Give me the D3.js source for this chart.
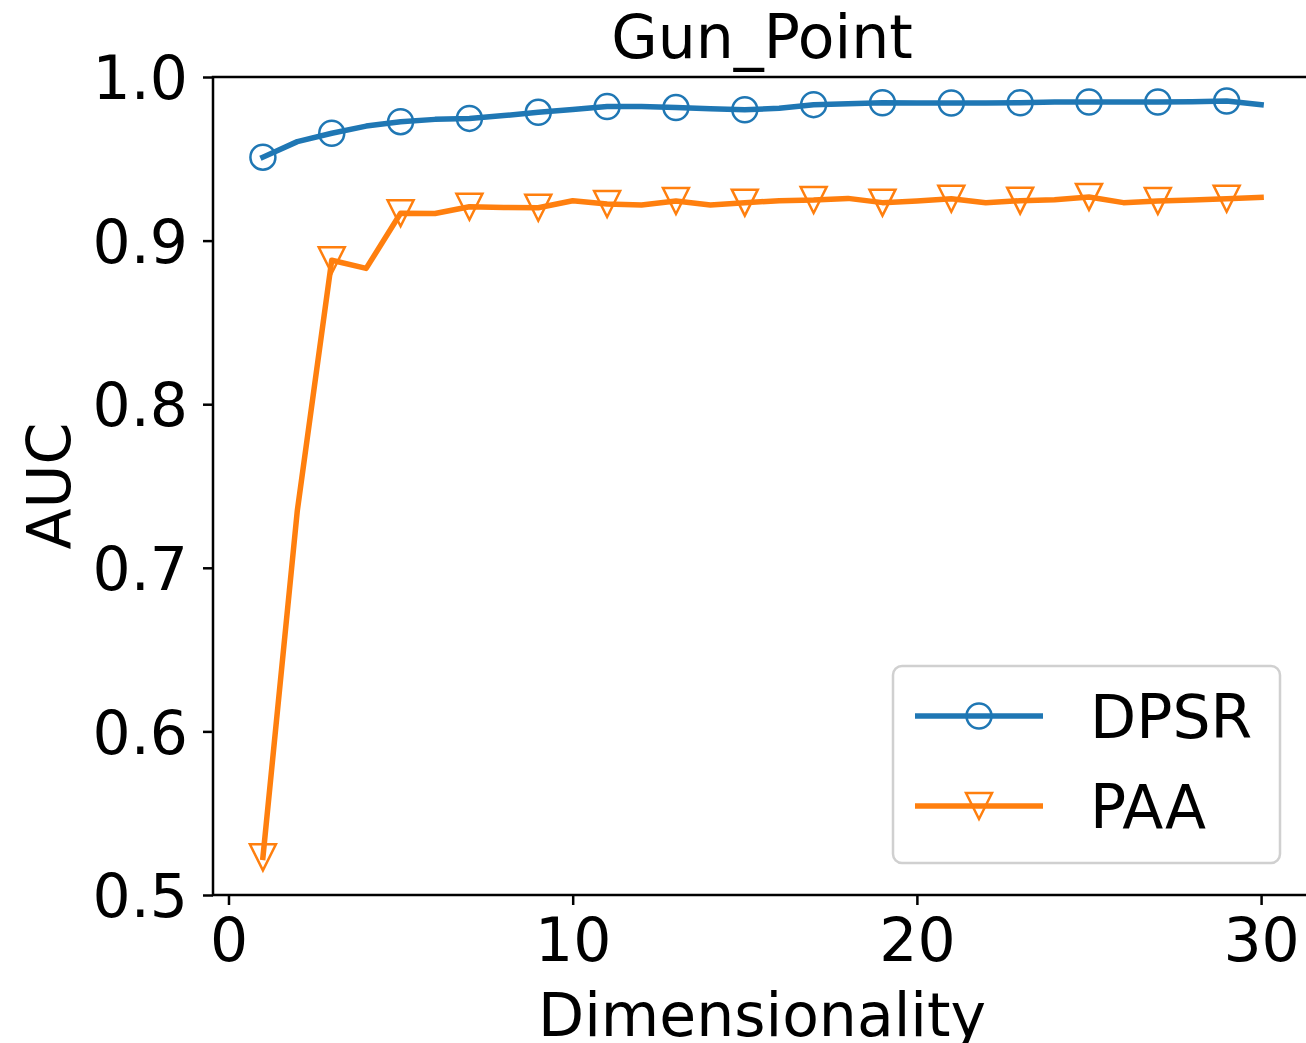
<!DOCTYPE html>
<html>
<head>
<meta charset="utf-8">
<script src="https://cdn.jsdelivr.net/npm/d3@7"></script>
<style>
  html, body { margin: 0; padding: 0; background: #fff; }
  svg { display: block; }
  text { font-family: "DejaVu Sans", sans-serif; }
</style>
</head>
<body>
<script>
// ---- data ----
const dims = [1,2,3,4,5,6,7,8,9,10,11,12,13,14,15,16,17,18,19,20,21,22,23,24,25,26,27,28,29,30];
const dpsr = [0.951,0.9605,0.9656,0.970,0.9727,0.9741,0.9747,0.9764,0.9784,0.9802,
              0.9819,0.9819,0.9813,0.9806,0.980,0.9809,0.9831,0.9837,0.9843,0.9841,
              0.9841,0.9841,0.9843,0.9847,0.9847,0.9847,0.9847,0.9849,0.9853,0.9831];
const paa  = [0.523,0.735,0.888,0.883,0.9167,0.9166,0.9207,0.9203,0.9201,0.9244,
              0.9224,0.9218,0.9242,0.9218,0.9232,0.9244,0.9248,0.9258,0.9232,0.9242,
              0.9256,0.9232,0.9244,0.925,0.9267,0.9232,0.9242,0.9248,0.9256,0.9265];
const xTicks = [0,10,20,30];
const yTicks = [0.5,0.6,0.7,0.8,0.9,1.0];
const seriesNames = ["DPSR","PAA"];
const title = "Gun_Point";
const xLabel = "Dimensionality";
const yLabel = "AUC";

// ---- layout ----
const W = 1306, H = 1043;
const L = 213, R = 1311, T = 77, B = 895;
const blue = "#1f77b4", orange = "#ff7f0e";
const fs = 60;

const svg = d3.select("body").append("svg").attr("width", W).attr("height", H);

const x = d3.scaleLinear().domain([-0.45, 31.45]).range([L, R]);
const y = d3.scaleLinear().domain([0.5, 1.0]).range([B, T]);

svg.append("defs").append("clipPath").attr("id","clip")
  .append("rect").attr("x", L).attr("y", T).attr("width", R-L).attr("height", B-T);

// axes
const xAxis = svg.append("g").attr("transform", `translate(0,${B})`)
  .call(d3.axisBottom(x).tickValues(xTicks).tickFormat(d3.format("d")).tickSizeOuter(0).tickSize(10).tickPadding(12));
const yAxis = svg.append("g").attr("transform", `translate(${L},0)`)
  .call(d3.axisLeft(y).tickValues(yTicks).tickFormat(d3.format(".1f")).tickSizeOuter(0).tickSize(10).tickPadding(15));
[xAxis, yAxis].forEach(g => {
  g.select(".domain").remove();
  g.selectAll(".tick line").attr("stroke", "#000").attr("stroke-width", 2.5);
  g.selectAll(".tick text").attr("font-size", fs).attr("fill", "#000")
    .attr("font-family", "DejaVu Sans, sans-serif");
});
yAxis.selectAll(".tick text").attr("dy", "0.36em");
xAxis.selectAll(".tick text").attr("dy", "0.74em");

// spines
svg.append("rect").attr("x", L).attr("y", T).attr("width", R-L).attr("height", B-T)
  .attr("fill", "none").attr("stroke", "#000").attr("stroke-width", 2.5);

// lines
const lineGen = d3.line().x((d,i) => x(dims[i])).y(d => y(d));
const plot = svg.append("g").attr("clip-path", "url(#clip)");
function drawSeries(vals, color, shape) {
  plot.append("path").datum(vals).attr("d", lineGen)
    .attr("fill","none").attr("stroke", color).attr("stroke-width", 5.5)
    .attr("stroke-linejoin","round").attr("stroke-linecap","square");
  const pts = vals.map((v,i) => ({x: dims[i], v})).filter((d,i) => i % 2 === 0);
  pts.forEach(d => drawMarker(svg, x(d.x), y(d.v), color, shape));
}
function drawMarker(g, cx, cy, color, shape) {
  if (shape === "circle") {
    g.append("circle").attr("cx", cx).attr("cy", cy).attr("r", 12.5)
      .attr("fill","none").attr("stroke", color).attr("stroke-width", 2.5);
  } else {
    const s = 13;
    g.append("path")
      .attr("d", `M${cx-s},${cy-s} L${cx+s},${cy-s} L${cx},${cy+s} Z`)
      .attr("fill","none").attr("stroke", color).attr("stroke-width", 2.5)
      .attr("stroke-linejoin","miter");
  }
}
drawSeries(dpsr, blue, "circle");
drawSeries(paa, orange, "tri");

// title & labels
svg.append("text").attr("x", (L+R)/2).attr("y", 58).attr("text-anchor","middle")
  .attr("font-size", fs).text(title);
svg.append("text").attr("x", (L+R)/2).attr("y", 1036).attr("text-anchor","middle")
  .attr("font-size", fs).text(xLabel);
svg.append("text").attr("transform", `translate(70,${(T+B)/2}) rotate(-90)`)
  .attr("text-anchor","middle").attr("font-size", fs).text(yLabel);

// legend
const lg = svg.append("g");
lg.append("rect").attr("x", 893).attr("y", 666).attr("width", 387).attr("height", 197)
  .attr("rx", 9).attr("fill", "#fff").attr("fill-opacity", 0.8)
  .attr("stroke", "#d0d0d0").attr("stroke-width", 2.5);
const legendItems = [
  {name: seriesNames[0], color: blue, shape: "circle", yy: 716},
  {name: seriesNames[1], color: orange, shape: "tri", yy: 806}
];
legendItems.forEach(it => {
  lg.append("line").attr("x1", 915).attr("x2", 1043).attr("y1", it.yy).attr("y2", it.yy)
    .attr("stroke", it.color).attr("stroke-width", 5.5);
  drawMarker(lg, 979, it.yy, it.color, it.shape);
  lg.append("text").attr("x", 1090).attr("y", it.yy).attr("dy", "0.36em")
    .attr("font-size", fs).text(it.name);
});
</script>
</body>
</html>
